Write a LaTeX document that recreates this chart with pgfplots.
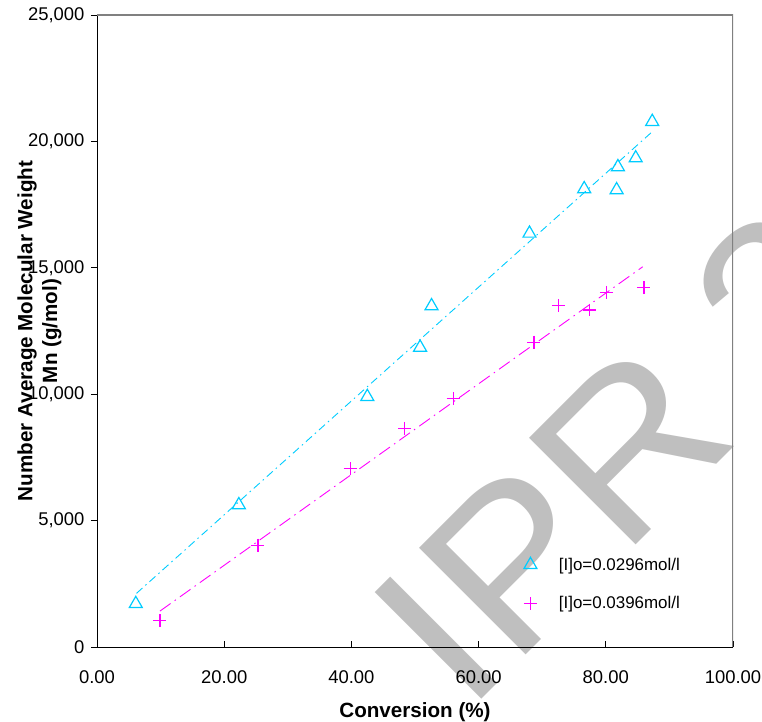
\documentclass[border=0pt]{standalone}
\usepackage{pgfplots}
\pgfplotsset{compat=1.18}
\usepackage{fontspec}
\setmainfont{Liberation Sans}
\definecolor{cy}{RGB}{0,204,255}
\definecolor{mg}{RGB}{255,0,255}
\begin{document}
\begin{tikzpicture}[x=1bp,y=1bp]
\useasboundingbox (-97,-75) rectangle (665,647);
\node[rotate=45, xscale=1.07, anchor=base west, text=black!25, font=\fontsize{220}{220}\selectfont, inner sep=0pt] at (369,-68) {IPR};
\node[rotate=45, xscale=1.07, anchor=base west, text=black!25, font=\fontsize{220}{220}\selectfont, inner sep=0pt] at (687,250) {2};
\begin{axis}[at={(0,0)}, anchor=south west, width=636bp, height=632bp, scale only axis,
  xmin=0, xmax=100, ymin=0, ymax=25000,
  axis lines=left, axis line style={-, black, line width=0.9bp},
  xtick={0,20,...,100}, ytick={0,5000,...,25000},
  tick align=inside, major tick length=6bp,
  tick style={black, line width=0.8bp},
  ytick style={xshift=-6bp},
  /pgf/number format/assume math mode=true,
  scaled y ticks=false,
  yticklabel style={font=\fontsize{18.5}{22}\selectfont, xshift=-9bp, /pgf/number format/fixed, /pgf/number format/precision=0, /pgf/number format/1000 sep={,}},
  xticklabel style={font=\fontsize{18.5}{22}\selectfont, yshift=-20bp, /pgf/number format/fixed, /pgf/number format/fixed zerofill, /pgf/number format/precision=2},
  xlabel={Conversion (\%)},
  ylabel={Number Average Molecular Weight\\Mn (g/mol)},
  xlabel style={font=\bfseries\fontsize{20.7}{25}\selectfont, at={(axis description cs:0.5,-0.1025)}, anchor=center},
  ylabel style={align=center, font=\bfseries\fontsize{20.7}{25}\selectfont, at={(axis description cs:-0.0905,0.5)}, anchor=center},
  legend style={draw=none, fill=none, at={(rel axis cs:0.6663,0.1476)}, anchor=north west, font=\fontsize{17}{20}\selectfont, row sep=21bp,
    /tikz/every odd column/.append style={column sep=20bp}},
  legend cell align=left,
]
\addplot[cy, line width=0.9bp, dash pattern=on 8bp off 4bp on 1.5bp off 4bp, forget plot] coordinates {(6.2,2120) (87.2,20360)};
\addplot[mg, line width=0.9bp, dash pattern=on 13bp off 5bp on 1.5bp off 5bp, forget plot] coordinates {(9.9,1420) (85.8,15040)};
\addplot[only marks, mark=triangle, mark size=7.5pt, cy, mark options={line width=1.2bp}] coordinates {
(6.1,1710) (22.3,5620) (42.5,9900) (50.8,11850) (52.6,13490) (68.0,16360) (76.6,18120) (81.7,18080) (81.9,18990) (84.7,19340) (87.3,20780)};
\addlegendentry{[I]o=0.0296mol/l}
\addplot[only marks, mark=+, mark size=6.5pt, mg, mark options={line width=1.2bp}] coordinates {
(9.9,1040) (25.3,4030) (39.8,7060) (48.4,8650) (56.0,9840) (68.7,12060) (72.6,13500) (77.4,13330) (80.1,14030) (86.0,14230)};
\addlegendentry{[I]o=0.0396mol/l}
\draw[gray, line width=1.2bp] (rel axis cs:0,1) -- (rel axis cs:1,1) -- (rel axis cs:1,0);
\end{axis}
\end{tikzpicture}
\end{document}
